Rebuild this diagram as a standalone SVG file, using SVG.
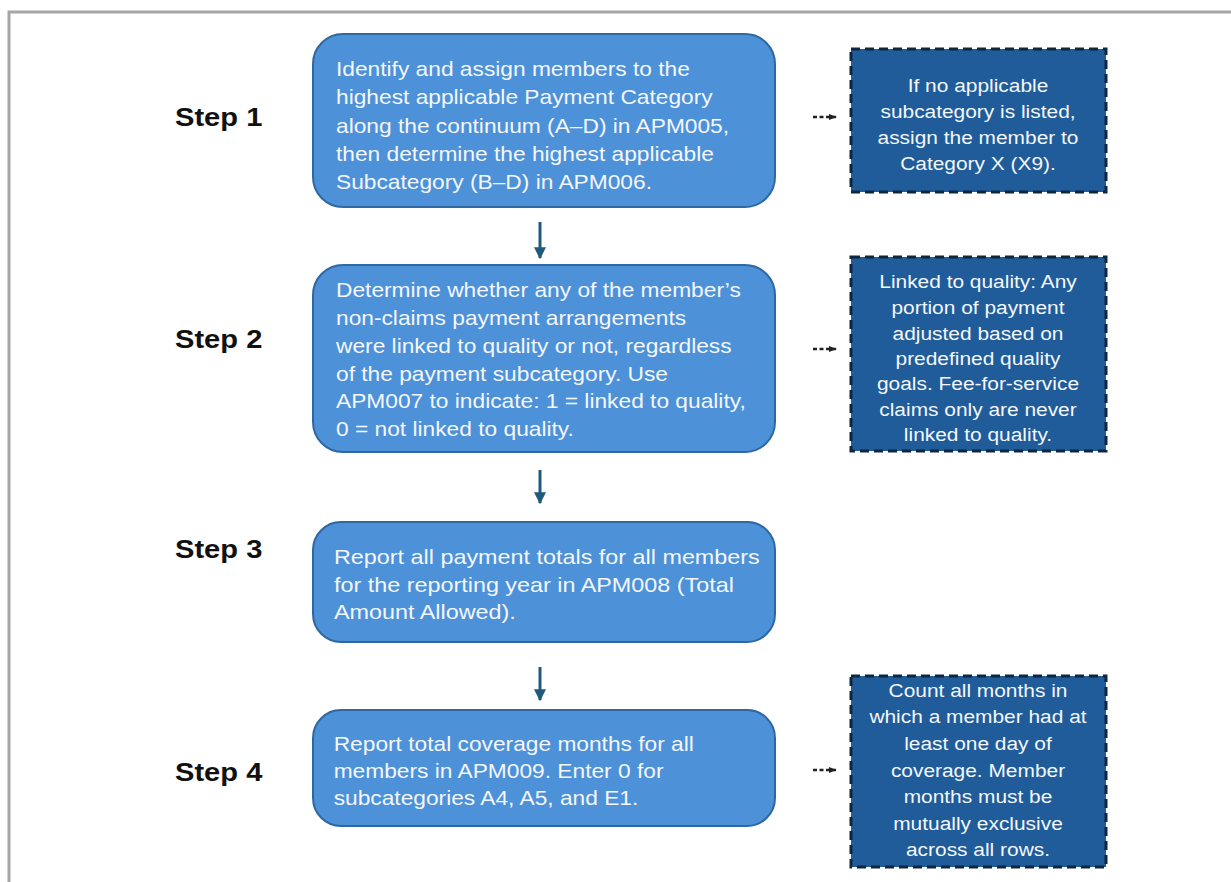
<svg xmlns="http://www.w3.org/2000/svg" width="1231" height="882" viewBox="0 0 1231 882">
<defs>
<marker id="ah" viewBox="0 0 10 10" refX="9" refY="5" markerWidth="4" markerHeight="4" orient="auto" markerUnits="strokeWidth"><path d="M0,0 L10,5 L0,10 z" fill="#1f5a7a"/></marker>
<marker id="ahs" viewBox="0 0 10 10" refX="9" refY="5" markerWidth="3" markerHeight="3" orient="auto" markerUnits="strokeWidth"><path d="M0,1 L10,5 L0,9 z" fill="#222"/></marker>
</defs>
<style>
.frame{fill:none;stroke:#a6a6a6;stroke-width:3}
.step{font-family:"Liberation Sans",Arial,sans-serif;font-weight:bold;font-size:26px;fill:#111}
.main{fill:#4d91d9;stroke:#2f68a0;stroke-width:2}
.mt{font-family:"Liberation Sans",Arial,sans-serif;font-size:20.5px;fill:#f4f7fb}
.note{fill:#1f5c99;stroke:#0e2740;stroke-width:3;stroke-dasharray:9 5}
.nt{font-family:"Liberation Sans",Arial,sans-serif;font-size:19px;fill:#f4f7fb;text-anchor:middle}
.down{stroke:#1f5a7a;stroke-width:3;fill:none;marker-end:url(#ah)}
.side{stroke:#222;stroke-width:2.6;stroke-dasharray:4 2.5;fill:none;marker-end:url(#ahs)}
</style>
<rect width="1231" height="882" fill="#ffffff"/>
<path class="frame" d="M9,882 V12 H1231"/>

<g id="labels" transform="matrix(1.12,0,0,1,-21,0)">
<text class="step" x="175" y="126">Step 1</text>
<text class="step" x="175" y="348">Step 2</text>
<text class="step" x="175" y="558">Step 3</text>
<text class="step" x="175" y="781">Step 4</text>
</g>

<g id="step1">
<rect class="main" x="313" y="34" width="462" height="173" rx="30"/>
<g transform="matrix(1.11,0,0,1,-36.96,0)">
<text class="mt" x="336" y="76">Identify and assign members to the</text>
<text class="mt" x="336" y="104">highest applicable Payment Category</text>
<text class="mt" x="336" y="133">along the continuum (A–D) in APM005,</text>
<text class="mt" x="336" y="161">then determine the highest applicable</text>
<text class="mt" x="336" y="189">Subcategory (B–D) in APM006.</text>
</g>
</g>

<g id="step2">
<rect class="main" x="313" y="265" width="462" height="187" rx="30"/>
<g transform="matrix(1.11,0,0,1,-36.96,0)">
<text class="mt" x="336" y="297">Determine whether any of the member’s</text>
<text class="mt" x="336" y="325">non-claims payment arrangements</text>
<text class="mt" x="336" y="353">were linked to quality or not, regardless</text>
<text class="mt" x="336" y="381">of the payment subcategory. Use</text>
<text class="mt" x="336" y="408">APM007 to indicate: 1 = linked to quality,</text>
<text class="mt" x="336" y="436">0 = not linked to quality.</text>
</g>
</g>

<g id="step3">
<rect class="main" x="313" y="522" width="462" height="120" rx="28"/>
<g transform="matrix(1.14,0,0,1,-46.76,0)">
<text class="mt" x="334" y="564">Report all payment totals for all members</text>
<text class="mt" x="334" y="592">for the reporting year in APM008 (Total</text>
<text class="mt" x="334" y="619">Amount Allowed).</text>
</g>
</g>

<g id="step4">
<rect class="main" x="313" y="710" width="462" height="116" rx="28"/>
<g transform="matrix(1.11,0,0,1,-37.07,0)">
<text class="mt" x="334" y="751">Report total coverage months for all</text>
<text class="mt" x="334" y="778">members in APM009. Enter 0 for</text>
<text class="mt" x="334" y="805">subcategories A4, A5, and E1.</text>
</g>
</g>

<g id="note1">
<rect class="note" x="851" y="49" width="255" height="143"/>
<g transform="matrix(1.1,0,0,1,-97.8,0)">
<text class="nt" x="978" y="92">If no applicable</text>
<text class="nt" x="978" y="118">subcategory is listed,</text>
<text class="nt" x="978" y="144">assign the member to</text>
<text class="nt" x="978" y="170">Category X (X9).</text>
</g>
</g>

<g id="note2">
<rect class="note" x="851" y="257" width="255" height="194"/>
<g transform="matrix(1.1,0,0,1,-97.8,0)">
<text class="nt" x="978" y="288">Linked to quality: Any</text>
<text class="nt" x="978" y="314">portion of payment</text>
<text class="nt" x="978" y="340">adjusted based on</text>
<text class="nt" x="978" y="365">predefined quality</text>
<text class="nt" x="978" y="390">goals. Fee-for-service</text>
<text class="nt" x="978" y="416">claims only are never</text>
<text class="nt" x="978" y="441">linked to quality.</text>
</g>
</g>

<g id="note4">
<rect class="note" x="851" y="676" width="255" height="191"/>
<g transform="matrix(1.1,0,0,1,-97.8,0)">
<text class="nt" x="978" y="697">Count all months in</text>
<text class="nt" x="978" y="723">which a member had at</text>
<text class="nt" x="978" y="750">least one day of</text>
<text class="nt" x="978" y="777">coverage. Member</text>
<text class="nt" x="978" y="803">months must be</text>
<text class="nt" x="978" y="830">mutually exclusive</text>
<text class="nt" x="978" y="856">across all rows.</text>
</g>
</g>

<g id="connectors">
<line class="down" x1="540" y1="222" x2="540" y2="258"/>
<line class="down" x1="540" y1="470" x2="540" y2="503"/>
<line class="down" x1="540" y1="667" x2="540" y2="700"/>
<line class="side" x1="813" y1="117" x2="836" y2="117"/>
<line class="side" x1="813" y1="349" x2="836" y2="349"/>
<line class="side" x1="813" y1="770" x2="836" y2="770"/>
</g>
</svg>
